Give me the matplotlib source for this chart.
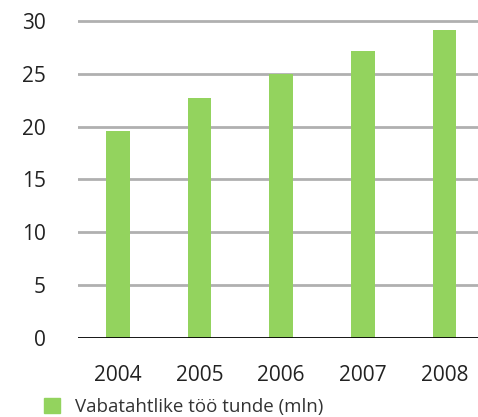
import matplotlib
matplotlib.use("Agg")
import matplotlib.pyplot as plt
from matplotlib.patches import Patch

years = ["2004", "2005", "2006", "2007", "2008"]
hours = [19.6, 22.7, 25.0, 27.1, 29.1]
yticks = [0, 5, 10, 15, 20, 25, 30]
legend_label = "Vabatahtlike töö tunde (mln)"

GREEN = "#93d35e"
GRID = "#b0b0b0"
INK = "#222222"

plt.rcParams["font.family"] = ["Open Sans", "DejaVu Sans"]

fig = plt.figure(figsize=(4.78, 4.17), dpi=100)
ax = fig.add_axes([0.163, 0.189, 0.837, 0.774])

x = list(range(len(years)))
ax.bar(x, hours, width=0.29, color=GREEN, zorder=3)

ax.set_xlim(-0.49, 4.41)
ax.set_ylim(0, 30.5)
ax.set_yticks(yticks)
ax.set_yticklabels([str(v) for v in yticks])
ax.set_xticks(x)
ax.set_xticklabels(years)

for v in yticks[1:]:
    ax.axhline(v, color=GRID, lw=2, zorder=1)
ax.axhline(0, color="black", lw=2, zorder=4)

for s in ax.spines.values():
    s.set_visible(False)
ax.tick_params(axis="both", length=0, colors=INK, labelsize=15)
ax.tick_params(axis="y", pad=23)
ax.tick_params(axis="x", pad=19)

fig.legend(handles=[Patch(color=GREEN)], labels=[legend_label],
           loc="lower left", bbox_to_anchor=(0.056, -0.038), frameon=False,
           handlelength=0.85, handleheight=0.85, handletextpad=0.8,
           fontsize=13.5, labelcolor="#333333")

fig.savefig("out.png", dpi=100)
